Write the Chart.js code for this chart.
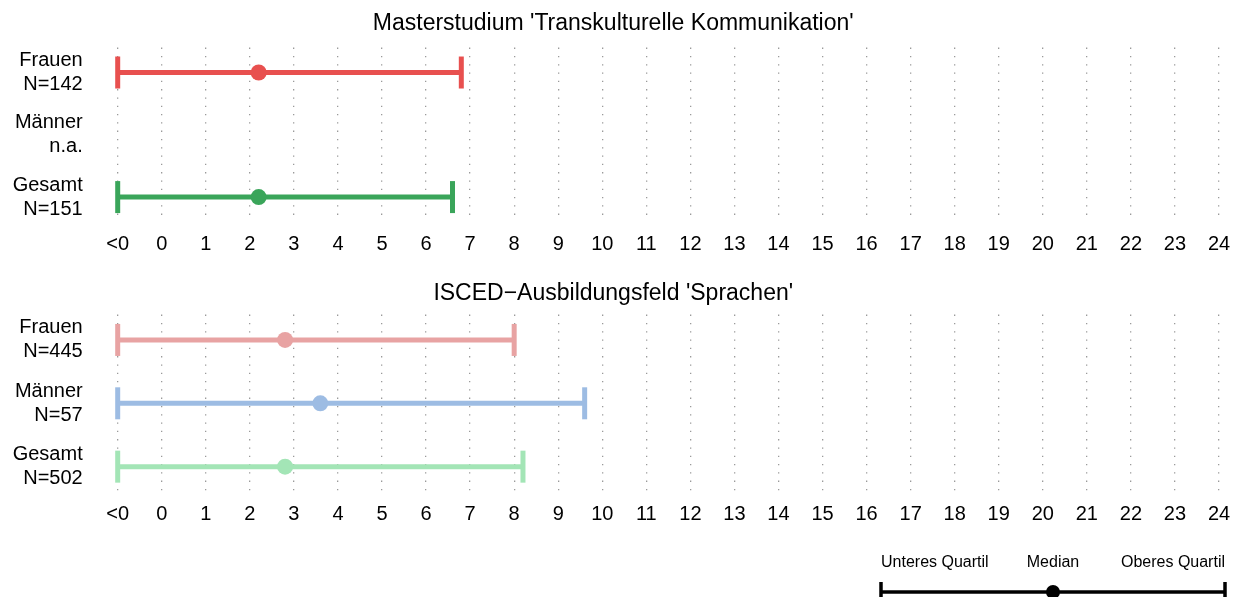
<!DOCTYPE html>
<html>
<head>
<meta charset="utf-8">
<script src="https://cdn.jsdelivr.net/npm/chart.js@4.4.0/dist/chart.umd.min.js"></script>
<style>
  body { margin: 0; background: #fff; width: 1240px; height: 597px; overflow: hidden; }
  canvas { position: absolute; left: 0; }
</style>
</head>
<body>
<canvas id="master" width="1240" height="266" style="top:0"></canvas>
<canvas id="isced" width="1240" height="269" style="top:267px"></canvas>
<canvas id="legend" width="1240" height="57" style="top:540px"></canvas>
<script>
// rows (top to bottom) and x ticks
const rowNames = ['Frauen', 'Männer', 'Gesamt'];
const tickLabels = ['<0', '0', '1', '2', '3', '4', '5', '6', '7', '8', '9', '10', '11', '12',
  '13', '14', '15', '16', '17', '18', '19', '20', '21', '22', '23', '24'];

// Masterstudium 'Transkulturelle Kommunikation'
const masterTitle = "Masterstudium 'Transkulturelle Kommunikation'";
const masterN = ['N=142', 'n.a.', 'N=151'];
const masterLower = [-1, null, -1];
const masterMedian = [2.2, null, 2.2];
const masterUpper = [6.8, null, 6.6];
const masterColors = ['#e8504f', null, '#3aa55a'];

// ISCED-Ausbildungsfeld 'Sprachen'
const iscedTitle = "ISCED\u2212Ausbildungsfeld 'Sprachen'";
const iscedN = ['N=445', 'N=57', 'N=502'];
const iscedLower = [-1, -1, -1];
const iscedMedian = [2.8, 3.6, 2.8];
const iscedUpper = [8.0, 9.6, 8.2];
const iscedColors = ['#e8a3a3', '#9dbce3', '#a3e5b6'];

// legend
const legendLabels = ['Unteres Quartil', 'Median', 'Oberes Quartil'];
const legendX = [0, 0.5, 1];

const FONT = "'Liberation Sans', Arial, Helvetica, sans-serif";
Chart.defaults.font.family = FONT;
Chart.defaults.color = '#000';

function makePanel(id, title, titlePad, nLabels, lower, median, upper, colors) {
  const datasets = [];
  const medianPoints = [];
  const medianColors = [];

  rowNames.forEach((name, i) => {
    if (median[i] === null) return;
    medianPoints.push({ x: median[i], y: i });
    medianColors.push(colors[i]);
    // quartile range with end caps
    datasets.push({
      data: [{ x: lower[i], y: i }, { x: upper[i], y: i }],
      showLine: true,
      borderColor: colors[i],
      borderWidth: 5,
      pointStyle: 'line',
      pointRotation: 90,
      pointRadius: 16,
      pointBorderWidth: 5,
      pointBorderColor: colors[i],
      clip: false,
      order: 1
    });
  });

  datasets.unshift({
    data: medianPoints,
    pointStyle: 'circle',
    pointRadius: 8,
    pointBorderWidth: 0,
    pointBackgroundColor: medianColors,
    clip: false,
    order: 0
  });

  return new Chart(document.getElementById(id).getContext('2d'), {
    type: 'scatter',
    data: { datasets },
    options: {
      responsive: false,
      animation: false,
      events: [],
      devicePixelRatio: 1,
      layout: { padding: { left: 0, right: 13.5, top: 0, bottom: 0 } },
      plugins: {
        legend: { display: false },
        tooltip: { enabled: false },
        title: {
          display: true,
          text: title,
          font: { size: 23, weight: 'normal' },
          color: '#000',
          padding: titlePad
        }
      },
      scales: {
        x: {
          type: 'linear',
          min: -1,
          max: 24,
          afterBuildTicks: scale => {
            scale.ticks = tickLabels.map((_, i) => ({ value: i - 1 }));
          },
          afterFit: scale => { scale.paddingLeft = 0; scale.paddingRight = 0; },
          ticks: {
            callback: (v, i) => tickLabels[i],
            autoSkip: false,
            maxRotation: 0,
            padding: 10,
            font: { size: 20 },
            color: '#000'
          },
          grid: { color: '#9a9a9a', lineWidth: 1.3, drawTicks: false },
          border: { display: false, dash: [1.3, 7] }
        },
        y: {
          type: 'linear',
          reverse: true,
          min: -0.4,
          max: 2.4,
          afterBuildTicks: scale => {
            scale.ticks = rowNames.map((_, i) => ({ value: i }));
          },
          afterFit: scale => {
            scale.width = 117.7;
            scale.paddingTop = 0;
            scale.paddingBottom = 0;
          },
          ticks: {
            callback: (v, i) => [rowNames[i], nLabels[i]],
            padding: 35,
            font: { size: 20, lineHeight: 1.2 },
            color: '#000'
          },
          grid: { display: false, drawTicks: false },
          border: { display: false }
        }
      }
    }
  });
}

makePanel('master', masterTitle, { top: 10, bottom: 10 },
  masterN, masterLower, masterMedian, masterUpper, masterColors);
makePanel('isced', iscedTitle, { top: 13, bottom: 7 },
  iscedN, iscedLower, iscedMedian, iscedUpper, iscedColors);

// legend labels over the sample bar
const legendText = {
  id: 'legendText',
  afterDraw(chart) {
    const ctx = chart.ctx;
    const x = chart.scales.x;
    const aligns = ['left', 'center', 'right'];
    ctx.save();
    ctx.font = '16px ' + FONT;
    ctx.fillStyle = '#000';
    ctx.textBaseline = 'middle';
    legendLabels.forEach((t, i) => {
      ctx.textAlign = aligns[i];
      ctx.fillText(t, x.getPixelForValue(legendX[i]), 23);
    });
    ctx.restore();
  }
};

new Chart(document.getElementById('legend').getContext('2d'), {
  type: 'scatter',
  data: {
    datasets: [
      {
        data: [{ x: legendX[1], y: 0 }],
        pointStyle: 'circle',
        pointRadius: 7,
        pointBorderWidth: 0,
        pointBackgroundColor: '#000',
        clip: false,
        order: 0
      },
      {
        data: [{ x: legendX[0], y: 0 }, { x: legendX[2], y: 0 }],
        showLine: true,
        borderColor: '#000',
        borderWidth: 3.5,
        pointStyle: 'line',
        pointRotation: 90,
        pointRadius: 10,
        pointBorderWidth: 3.5,
        pointBorderColor: '#000',
        clip: false,
        order: 1
      }
    ]
  },
  options: {
    responsive: false,
    animation: false,
    events: [],
    devicePixelRatio: 1,
    layout: { padding: { left: 881, right: 15, top: 52, bottom: 0 } },
    plugins: { legend: { display: false }, tooltip: { enabled: false } },
    scales: {
      x: { type: 'linear', min: 0, max: 1, display: false },
      y: { type: 'linear', min: -1, max: 0, display: false }
    }
  },
  plugins: [legendText]
});
</script>
</body>
</html>
